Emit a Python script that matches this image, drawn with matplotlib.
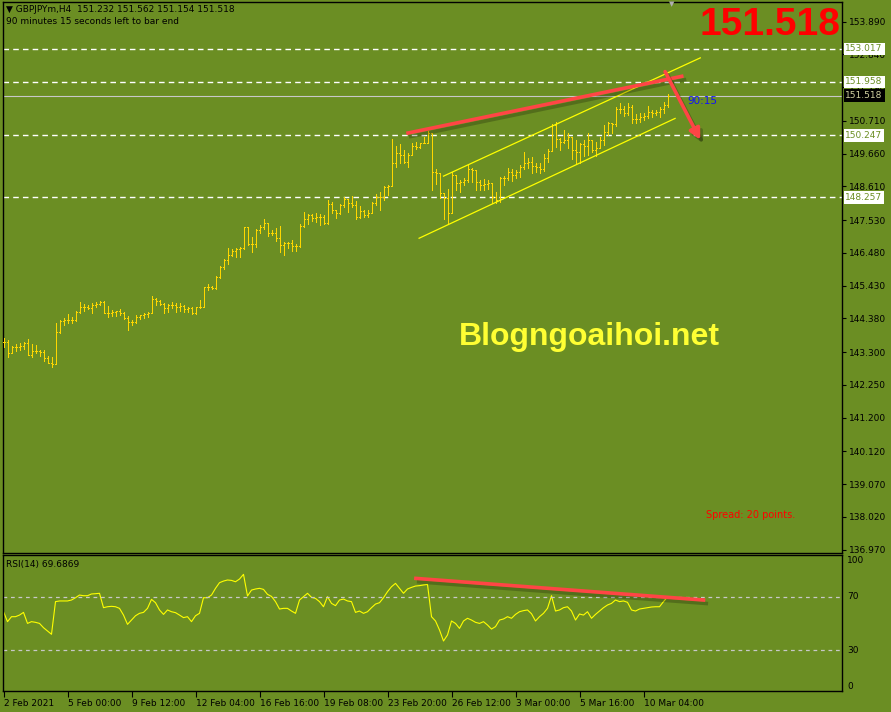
import matplotlib
matplotlib.use("Agg")
import matplotlib.pyplot as plt
import matplotlib.patheffects as pe
import matplotlib.transforms as mtransforms
import numpy as np

# H4 bars, GBPJPYm (open = previous close)
closes = [
    143.63, 143.26, 143.47, 143.45, 143.50, 143.60, 143.21, 143.35, 143.35, 143.31,
    143.10, 142.96, 142.92, 143.95, 144.31, 144.33, 144.33, 144.33, 144.58, 144.74,
    144.76, 144.70, 144.81, 144.83, 144.90, 144.54, 144.54, 144.60, 144.61, 144.56,
    144.38, 144.27, 144.27, 144.42, 144.49, 144.52, 144.54, 144.99, 144.95, 144.83,
    144.70, 144.81, 144.81, 144.76, 144.78, 144.67, 144.70, 144.54, 144.74, 144.76,
    145.38, 145.38, 145.35, 145.70, 146.02, 146.25, 146.41, 146.55, 146.60, 146.63,
    147.30, 146.77, 146.77, 147.21, 147.32, 147.43, 147.13, 147.13, 146.95, 146.73,
    146.81, 146.81, 146.70, 146.70, 147.34, 147.56, 147.69, 147.59, 147.62, 147.64,
    147.43, 148.05, 147.86, 147.75, 148.02, 148.20, 148.09, 148.02, 147.64, 147.83,
    147.69, 147.77, 148.09, 148.28, 148.26, 148.58, 148.62, 149.37, 149.69, 149.62,
    149.40, 149.62, 149.91, 149.86, 150.01, 150.01, 150.31, 149.08, 149.05, 148.39,
    148.23, 147.75, 148.98, 148.71, 148.76, 148.82, 149.16, 149.14, 148.76, 148.66,
    148.69, 148.73, 148.26, 148.18, 148.87, 148.87, 149.08, 148.98, 149.08, 149.22,
    149.37, 149.40, 149.27, 149.22, 149.16, 149.52, 149.76, 150.58, 150.12, 150.04,
    150.10, 150.20, 149.78, 149.72, 149.97, 149.91, 150.10, 149.78, 149.83, 150.10,
    150.36, 150.63, 150.61, 151.08, 151.08, 150.97, 151.17, 150.76, 150.76, 150.85,
    150.87, 151.01, 150.95, 151.01, 151.08, 151.232, 151.518,
]
highs = [
    143.76, 143.69, 143.50, 143.56, 143.60, 143.63, 143.71, 143.56, 143.53, 143.37,
    143.37, 143.18, 143.13, 144.24, 144.33, 144.38, 144.52, 144.44, 144.62, 144.91,
    144.84, 144.81, 144.86, 144.92, 144.95, 144.93, 144.78, 144.65, 144.63, 144.67,
    144.60, 144.46, 144.33, 144.49, 144.49, 144.56, 144.60, 145.10, 145.02, 144.97,
    144.86, 144.84, 144.92, 144.86, 144.86, 144.81, 144.76, 144.76, 144.76, 144.97,
    145.40, 145.48, 145.42, 145.74, 146.06, 146.27, 146.63, 146.60, 146.63, 146.66,
    147.30, 147.30, 147.00, 147.24, 147.37, 147.56, 147.37, 147.21, 147.27, 147.34,
    146.84, 146.84, 146.89, 146.77, 147.41, 147.80, 147.73, 147.73, 147.75, 147.73,
    147.69, 148.18, 148.12, 147.86, 148.05, 148.28, 148.20, 148.30, 148.15, 147.98,
    147.86, 147.86, 148.12, 148.37, 148.44, 148.62, 148.66, 150.12, 149.91, 149.97,
    149.78, 149.67, 149.99, 150.04, 150.01, 150.20, 150.40, 150.26, 149.16, 149.05,
    148.41, 148.52, 149.08, 148.98, 148.82, 148.87, 149.30, 149.19, 148.87, 148.82,
    148.84, 148.82, 148.60, 148.44, 148.92, 148.94, 149.19, 149.16, 149.14, 149.30,
    149.72, 149.51, 149.56, 149.35, 149.35, 149.65, 149.80, 150.61, 150.68, 150.15,
    150.42, 150.31, 150.15, 150.10, 150.01, 150.10, 150.31, 150.10, 150.04, 150.20,
    150.58, 150.68, 150.65, 151.15, 151.27, 151.19, 151.27, 151.22, 150.93, 150.97,
    150.95, 151.19, 151.06, 151.06, 151.15, 151.33, 151.562,
]
lows = [
    143.47, 143.13, 143.26, 143.35, 143.37, 143.39, 143.21, 143.13, 143.26, 143.18,
    143.02, 142.94, 142.83, 142.92, 143.92, 144.17, 144.24, 144.24, 144.31, 144.54,
    144.63, 144.67, 144.54, 144.74, 144.80, 144.54, 144.42, 144.46, 144.46, 144.49,
    144.35, 144.01, 144.17, 144.22, 144.35, 144.38, 144.42, 144.54, 144.81, 144.81,
    144.56, 144.59, 144.70, 144.60, 144.63, 144.60, 144.60, 144.52, 144.52, 144.70,
    144.74, 145.29, 145.31, 145.31, 145.67, 145.95, 146.12, 146.38, 146.36, 146.36,
    146.60, 146.73, 146.52, 146.66, 147.13, 147.24, 147.02, 147.05, 146.87, 146.52,
    146.41, 146.63, 146.55, 146.55, 146.66, 147.30, 147.41, 147.51, 147.48, 147.37,
    147.41, 147.41, 147.77, 147.59, 147.73, 147.94, 147.80, 147.94, 147.56, 147.59,
    147.64, 147.64, 147.77, 148.02, 147.86, 148.18, 148.34, 148.66, 149.24, 149.37,
    149.35, 149.22, 149.62, 149.80, 149.83, 149.99, 149.99, 148.50, 148.69, 148.23,
    147.56, 147.41, 147.80, 148.50, 148.44, 148.66, 148.76, 148.76, 148.50, 148.50,
    148.50, 148.52, 148.09, 148.09, 148.12, 148.66, 148.82, 148.79, 148.87, 148.92,
    149.16, 149.19, 149.03, 149.08, 149.05, 149.10, 149.40, 149.80, 149.88, 149.78,
    149.99, 149.83, 149.48, 149.37, 149.37, 149.59, 149.62, 149.72, 149.59, 149.83,
    149.94, 150.26, 150.33, 150.55, 150.95, 150.87, 150.90, 150.63, 150.65, 150.68,
    150.74, 150.79, 150.85, 150.90, 150.85, 150.97, 151.154,
]
rsi = [
    58.7, 51.3, 55.0, 55.0, 56.2, 58.2, 50.0, 51.3, 50.8, 50.0,
    46.8, 44.3, 41.9, 66.2, 66.7, 66.7, 66.7, 67.4, 69.1, 71.1,
    70.6, 70.6, 71.9, 72.1, 72.4, 61.7, 62.4, 62.7, 62.4, 61.2,
    56.2, 49.3, 52.5, 55.7, 57.5, 58.2, 61.2, 67.9, 65.4, 60.0,
    56.7, 60.0, 58.7, 58.0, 56.2, 54.3, 55.0, 51.3, 55.7, 57.5,
    69.1, 69.1, 71.1, 76.1, 80.3, 81.5, 82.3, 82.0, 81.0, 83.0,
    86.5, 70.4, 74.8, 75.6, 76.1, 75.3, 71.6, 70.1, 66.2, 60.7,
    61.2, 61.2, 59.2, 57.5, 67.4, 69.9, 72.4, 69.4, 68.6, 66.2,
    62.4, 69.9, 64.9, 63.2, 67.4, 68.1, 66.7, 66.2, 58.2, 59.2,
    57.5, 58.7, 61.7, 64.4, 65.4, 69.1, 73.6, 77.3, 79.8, 76.1,
    72.4, 75.6, 76.8, 77.8, 78.1, 78.6, 79.0, 55.0, 51.8, 45.1,
    36.9, 41.4, 51.8, 50.0, 46.3, 51.8, 53.8, 52.5, 50.8, 50.0,
    51.3, 48.8, 45.8, 47.6, 52.5, 53.3, 55.0, 53.8, 56.7, 58.7,
    59.5, 60.0, 57.2, 51.8, 55.0, 57.5, 61.2, 70.6, 59.2, 60.0,
    61.7, 62.4, 59.2, 52.5, 57.0, 56.2, 58.7, 53.8, 56.7, 59.2,
    61.7, 63.7, 64.9, 67.4, 66.2, 66.7, 65.7, 60.0, 59.2, 60.7,
    61.2, 61.7, 62.2, 62.4, 62.4, 66.2, 69.69,
]

date_ticks = list(range(0, 161, 16))
date_labels = ["2 Feb 2021", "5 Feb 00:00", "9 Feb 12:00", "12 Feb 04:00",
               "16 Feb 16:00", "19 Feb 08:00", "23 Feb 20:00", "26 Feb 12:00",
               "3 Mar 00:00", "5 Mar 16:00", "10 Mar 04:00"]
price_ticks = [153.890, 152.840, 151.790, 150.710, 149.660, 148.610, 147.530,
               146.480, 145.430, 144.380, 143.300, 142.250, 141.200, 140.120,
               139.070, 138.020, 136.970]
levels = [153.017, 151.958, 150.247, 148.257]
bid = 151.518

# drawn objects (bar index, price)
channel_up = [(110.0, 148.94), (174.2, 152.73)]
channel_dn = [(103.9, 146.95), (167.9, 150.79)]
resist_line = [(100.7, 150.31), (170.0, 152.15)]
arrow_pts = [(165.4, 152.29), (174.2, 150.10)]
rsi_line = [(103.1, 83.5), (175.0, 67.4)]

BG = "#6B8E23"
BAR = "#FFD700"
RED = "#FF4545"
W, H = 891, 712


def fpos(x, y):
    return x / W, 1 - y / H


def main():
    fig = plt.figure(figsize=(W / 100, H / 100), dpi=100, facecolor=BG)
    ax = fig.add_axes([3 / W, (H - 552.5) / H, 839 / W, 550.5 / H], facecolor=BG)
    rax = fig.add_axes([3 / W, (H - 691) / H, 839 / W, 136 / H], facecolor=BG)

    n = len(closes)
    idx = np.arange(n)
    c = np.array(closes)
    o = np.concatenate(([c[0]], c[:-1]))
    hi = np.maximum(np.array(highs), o)
    lo = np.minimum(np.array(lows), o)

    bar_kw = dict(color=BAR, lw=0.72, antialiased=False, zorder=3)
    ax.vlines(idx, lo, hi, **bar_kw)
    ax.hlines(o, idx - 0.25, idx, **bar_kw)
    ax.hlines(c, idx, idx + 0.25, **bar_kw)

    xmin = -0.125
    xmax = xmin + 839 / 4
    ax.set_xlim(xmin, xmax)
    ax.set_ylim(136.88, 154.52)

    for lv in levels:
        ax.axhline(lv, color="white", lw=1, ls=(0, (4, 3)), zorder=2)
    ax.axhline(bid, color="#C8C8C8", lw=0.8, zorder=2)

    for pts in (channel_up, channel_dn):
        (x0, y0), (x1, y1) = pts
        ax.plot([x0, x1], [y0, y1], color="#FFFF00", lw=0.9, zorder=4)

    shadow = [pe.SimpleLineShadow(offset=(2, -2.5), shadow_color="black", alpha=0.22),
              pe.Normal()]
    (x0, y0), (x1, y1) = resist_line
    ax.plot([x0, x1], [y0, y1], color=RED, lw=2.6, solid_capstyle="butt",
            path_effects=shadow, zorder=5)
    ax.annotate("", xy=arrow_pts[1], xytext=arrow_pts[0],
                arrowprops=dict(arrowstyle="-|>", color=RED, lw=2.6,
                                mutation_scale=16, shrinkA=0, shrinkB=0,
                                path_effects=shadow), zorder=5)

    # right price scale
    ax.yaxis.tick_right()
    ax.set_yticks(price_ticks)
    ax.set_yticklabels([f"{t:.3f}" for t in price_ticks])
    ax.tick_params(axis="y", length=3, width=0.8, color="black", pad=2,
                   labelsize=6.5, labelcolor="black")
    ax.set_xticks([])
    for s in ax.spines.values():
        s.set_color("black")
        s.set_linewidth(1)

    tr = mtransforms.blended_transform_factory(ax.transAxes, ax.transData)
    for lv in levels:
        ax.text(1.004, lv, f"{lv:.3f}", transform=tr, fontsize=6.5, color=BG,
                va="center", ha="left", clip_on=False, zorder=6,
                bbox=dict(boxstyle="square,pad=0.2", fc="white", ec="none"))
    ax.text(1.004, bid, f"{bid:.3f}", transform=tr, fontsize=6.5, color="#D0D0A0",
            va="center", ha="left", clip_on=False, zorder=6,
            bbox=dict(boxstyle="square,pad=0.2", fc="black", ec="none"))

    # RSI window
    rax.plot(idx, rsi, color="#FFFF00", lw=0.8)
    for lv in (70, 30):
        rax.axhline(lv, color="#C8C8C8", lw=0.9, ls=(0, (3, 3)))
    (x0, y0), (x1, y1) = rsi_line
    rax.plot([x0, x1], [y0, y1], color=RED, lw=2.6, path_effects=shadow, zorder=5)
    rax.set_xlim(xmin, xmax)
    rax.set_ylim(-0.3, 100.9)
    rax.set_yticks([])
    rax.set_xticks(date_ticks)
    rax.set_xticklabels(date_labels)
    rax.tick_params(axis="x", length=4, width=0.8, color="black", pad=2,
                    labelsize=6.5, labelcolor="black")
    for lab in rax.get_xticklabels():
        lab.set_ha("left")
    for s in rax.spines.values():
        s.set_color("black")
        s.set_linewidth(1)
    rtr = mtransforms.blended_transform_factory(rax.transAxes, rax.transData)
    for val, va in ((100, "top"), (70, "center"), (30, "center"), (0, "bottom")):
        rax.text(1.006, val, str(val), transform=rtr, fontsize=6.5, va=va,
                 ha="left", clip_on=False)
    rax.text(0.004, 0.93, "RSI(14) 69.6869", transform=rax.transAxes,
             fontsize=6.5, va="center", ha="left")

    # texts
    fig.text(*fpos(6, 9), "\u25bc GBPJPYm,H4  151.232 151.562 151.154 151.518",
             fontsize=6.5, va="center", ha="left")
    fig.text(*fpos(6, 21), "90 minutes 15 seconds left to bar end",
             fontsize=6.5, va="center", ha="left")
    fig.text(*fpos(672, 4), "\u25bc", fontsize=5, color="#B0B0B0",
             va="center", ha="center")
    fig.text(*fpos(840, 25), "151.518", fontsize=28, fontweight="bold",
             family="Liberation Sans", color="red", va="center", ha="right")
    fig.text(*fpos(687, 101), "90:15", fontsize=7.5, color="#1010FF",
             va="center", ha="left")
    fig.text(*fpos(459, 337), "Blogngoaihoi.net", fontsize=23, fontweight="bold",
             family="Liberation Sans", color="#FFFF33", va="center", ha="left")
    fig.text(*fpos(706, 515), "Spread: 20 points.", fontsize=7, color="red",
             va="center", ha="left")

    fig.savefig("out.png", dpi=100, facecolor=BG)


if __name__ == "__main__":
    main()
